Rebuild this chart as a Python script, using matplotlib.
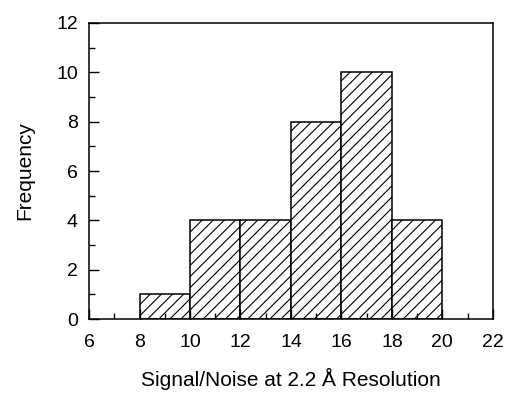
import matplotlib
matplotlib.use("Agg")
from matplotlib import pyplot as plt
from matplotlib.ticker import MultipleLocator

plt.rcParams['font.family'] = ['Liberation Sans', 'DejaVu Sans']
plt.rcParams['hatch.linewidth'] = 0.8

# histogram bins (signal/noise) and counts
bin_edges = [8, 10, 12, 14, 16, 18, 20]
counts = [1, 4, 4, 8, 10, 4]

fig = plt.figure(figsize=(5.06, 3.95), dpi=100)
ax = fig.add_axes([0.176, 0.192, 0.798, 0.750])

lefts = bin_edges[:-1]
widths = [bin_edges[i + 1] - bin_edges[i] for i in range(len(counts))]
ax.bar(lefts, counts, width=widths, align='edge', color='white',
       edgecolor='black', linewidth=1.1, hatch='///')

ax.set_xlim(6, 22)
ax.set_ylim(0, 12)
ax.xaxis.set_major_locator(MultipleLocator(2))
ax.xaxis.set_minor_locator(MultipleLocator(1))
ax.yaxis.set_major_locator(MultipleLocator(2))
ax.yaxis.set_minor_locator(MultipleLocator(1))
ax.tick_params(which='both', direction='in', top=False, right=False,
               labelsize=14, width=1)
ax.tick_params(which='major', length=7)
ax.tick_params(which='minor', length=4)
ax.tick_params(axis='x', which='major', pad=11)
ax.tick_params(axis='y', which='major', pad=8)
for s in ax.spines.values():
    s.set_linewidth(1.1)

ax.set_xlabel('Signal/Noise at 2.2 Å Resolution', fontsize=15, labelpad=12)
ax.set_ylabel('Frequency', fontsize=15, labelpad=16)

fig.savefig('out.png', dpi=100)
